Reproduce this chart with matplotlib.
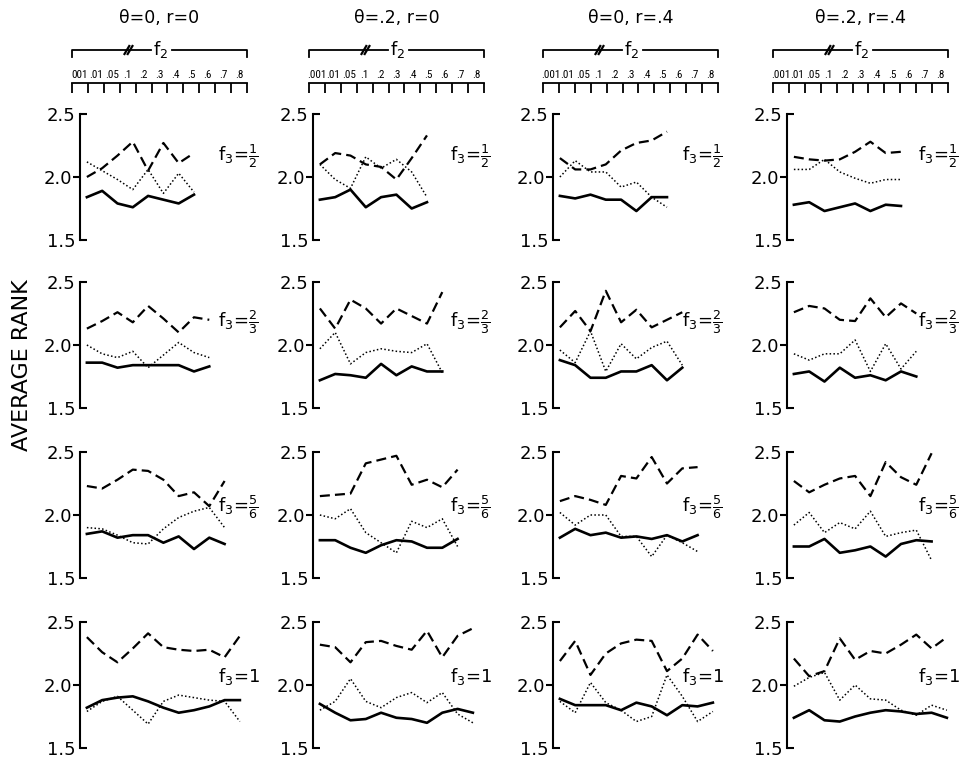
import matplotlib
matplotlib.use('Agg')
import matplotlib.pyplot as plt
from matplotlib import font_manager

# column headings, f2 scale and f3 row labels
col_titles = ['θ=0, r=0', 'θ=.2, r=0', 'θ=0, r=.4', 'θ=.2, r=.4']
f2_labels_first = ['001', '.01', '.05', '.1', '.2', '.3', '.4', '.5', '.6', '.7', '.8']
f2_labels = ['.001', '.01', '.05', '.1', '.2', '.3', '.4', '.5', '.6', '.7', '.8']
f3_labels = ['f$_3$=$\\frac{1}{2}$', 'f$_3$=$\\frac{2}{3}$', 'f$_3$=$\\frac{5}{6}$', 'f$_3$=1']
y_ticks = [1.5, 2.5]
y_tick_labels = ['1.5', '2.5']
y_mid = [2.0]
y_mid_labels = ['2.0']

# average rank, one list per column (theta/r case)
dashed_f3_half = [
    [2.00, 2.07, 2.17, 2.28, 2.05, 2.27, 2.11, 2.19],
    [2.10, 2.19, 2.17, 2.10, 2.08, 1.98, 2.15, 2.33],
    [2.15, 2.06, 2.06, 2.10, 2.21, 2.27, 2.29, 2.36],
    [2.16, 2.14, 2.13, 2.14, 2.20, 2.28, 2.19, 2.20],
]
dotted_f3_half = [
    [2.12, 2.05, 1.98, 1.90, 2.06, 1.87, 2.03, 1.88],
    [2.10, 1.98, 1.91, 2.16, 2.07, 2.14, 2.04, 1.84],
    [2.00, 2.13, 2.04, 2.04, 1.92, 1.96, 1.84, 1.76],
    [2.06, 2.06, 2.14, 2.04, 1.99, 1.95, 1.98, 1.98],
]
solid_f3_half = [
    [1.84, 1.89, 1.79, 1.76, 1.85, 1.82, 1.79, 1.86],
    [1.82, 1.84, 1.90, 1.76, 1.84, 1.86, 1.75, 1.80],
    [1.85, 1.83, 1.86, 1.82, 1.82, 1.73, 1.84, 1.84],
    [1.78, 1.80, 1.73, 1.76, 1.79, 1.73, 1.78, 1.77],
]

dashed_f3_two_thirds = [
    [2.13, 2.19, 2.26, 2.18, 2.31, 2.21, 2.10, 2.22, 2.20],
    [2.29, 2.13, 2.36, 2.29, 2.17, 2.29, 2.23, 2.17, 2.42],
    [2.14, 2.27, 2.11, 2.43, 2.18, 2.28, 2.14, 2.20, 2.26],
    [2.26, 2.31, 2.29, 2.20, 2.19, 2.37, 2.22, 2.33, 2.25],
]
dotted_f3_two_thirds = [
    [2.00, 1.93, 1.90, 1.95, 1.82, 1.92, 2.02, 1.94, 1.90],
    [1.97, 2.10, 1.85, 1.94, 1.97, 1.95, 1.94, 2.01, 1.78],
    [1.96, 1.86, 2.11, 1.79, 2.01, 1.89, 1.98, 2.03, 1.84],
    [1.93, 1.88, 1.93, 1.93, 2.04, 1.79, 2.01, 1.81, 1.95],
]
solid_f3_two_thirds = [
    [1.86, 1.86, 1.82, 1.84, 1.84, 1.84, 1.84, 1.79, 1.83],
    [1.72, 1.77, 1.76, 1.74, 1.85, 1.76, 1.83, 1.79, 1.79],
    [1.88, 1.84, 1.74, 1.74, 1.79, 1.79, 1.84, 1.72, 1.82],
    [1.77, 1.79, 1.71, 1.82, 1.74, 1.76, 1.72, 1.79, 1.75],
]

dashed_f3_five_sixths = [
    [2.23, 2.21, 2.28, 2.36, 2.35, 2.28, 2.15, 2.18, 2.07, 2.27],
    [2.15, 2.16, 2.17, 2.41, 2.44, 2.47, 2.24, 2.28, 2.22, 2.36],
    [2.11, 2.15, 2.12, 2.08, 2.31, 2.29, 2.46, 2.25, 2.37, 2.38],
    [2.27, 2.18, 2.24, 2.29, 2.31, 2.15, 2.42, 2.30, 2.24, 2.49],
]
dotted_f3_five_sixths = [
    [1.90, 1.89, 1.84, 1.78, 1.77, 1.89, 1.98, 2.03, 2.06, 1.90],
    [2.00, 1.97, 2.05, 1.86, 1.78, 1.70, 1.95, 1.90, 1.97, 1.75],
    [2.02, 1.92, 2.00, 2.00, 1.83, 1.83, 1.67, 1.84, 1.78, 1.71],
    [1.92, 2.02, 1.86, 1.94, 1.89, 2.03, 1.83, 1.86, 1.88, 1.64],
]
solid_f3_five_sixths = [
    [1.85, 1.87, 1.82, 1.84, 1.84, 1.78, 1.83, 1.73, 1.82, 1.77],
    [1.80, 1.80, 1.74, 1.70, 1.76, 1.80, 1.79, 1.74, 1.74, 1.81],
    [1.82, 1.89, 1.84, 1.86, 1.82, 1.83, 1.81, 1.84, 1.79, 1.84],
    [1.75, 1.75, 1.81, 1.70, 1.72, 1.75, 1.67, 1.77, 1.80, 1.79],
]

dashed_f3_one = [
    [2.38, 2.26, 2.18, 2.29, 2.41, 2.30, 2.28, 2.27, 2.28, 2.22, 2.39],
    [2.32, 2.30, 2.18, 2.34, 2.35, 2.31, 2.28, 2.43, 2.22, 2.39, 2.45],
    [2.19, 2.35, 2.08, 2.25, 2.33, 2.36, 2.35, 2.11, 2.21, 2.40, 2.27],
    [2.21, 2.07, 2.11, 2.37, 2.20, 2.27, 2.25, 2.32, 2.40, 2.29, 2.38],
]
dotted_f3_one = [
    [1.79, 1.87, 1.91, 1.80, 1.69, 1.87, 1.92, 1.90, 1.88, 1.87, 1.71],
    [1.80, 1.87, 2.05, 1.87, 1.82, 1.90, 1.94, 1.86, 1.94, 1.77, 1.70],
    [1.87, 1.78, 2.02, 1.86, 1.80, 1.71, 1.75, 2.08, 1.91, 1.71, 1.79],
    [1.99, 2.06, 2.10, 1.88, 2.00, 1.89, 1.88, 1.80, 1.76, 1.84, 1.80],
]
solid_f3_one = [
    [1.82, 1.88, 1.90, 1.91, 1.87, 1.82, 1.78, 1.80, 1.83, 1.88, 1.88],
    [1.85, 1.78, 1.72, 1.73, 1.78, 1.74, 1.73, 1.70, 1.78, 1.81, 1.78],
    [1.89, 1.84, 1.84, 1.84, 1.80, 1.86, 1.83, 1.76, 1.84, 1.83, 1.86],
    [1.74, 1.80, 1.72, 1.71, 1.75, 1.78, 1.80, 1.79, 1.77, 1.78, 1.74],
]

dashed_rows = [dashed_f3_half, dashed_f3_two_thirds, dashed_f3_five_sixths, dashed_f3_one]
dotted_rows = [dotted_f3_half, dotted_f3_two_thirds, dotted_f3_five_sixths, dotted_f3_one]
solid_rows = [solid_f3_half, solid_f3_two_thirds, solid_f3_five_sixths, solid_f3_one]
f3_label_y = [2.17, 2.18, 2.06, 2.07]


def narrow_font():
    for fam in ['Liberation Sans Narrow', 'Roboto Condensed', 'Open Sans Condensed']:
        try:
            font_manager.findfont(font_manager.FontProperties(family=fam),
                                  fallback_to_default=False)
            return fam, 8
        except ValueError:
            pass
    return 'DejaVu Sans', 6.5


plt.rcParams['font.family'] = 'DejaVu Sans'
plt.rcParams['mathtext.default'] = 'regular'

W, H = 963, 760
fig = plt.figure(figsize=(W / 100, H / 100), dpi=100)


def px_axes(x, y, w, h):
    return fig.add_axes([x / W, 1 - (y + h) / H, w / W, h / H])


spine_x = [80, 313, 553, 787]
top_y = [114, 282, 452, 622]
panel_w, panel_h = 185, 126
step = 15.3
x0 = -0.45
label_x = [8.6, 8.5, 8.0, 8.1]

for r in range(4):
    for c in range(4):
        ax = px_axes(spine_x[c], top_y[r], panel_w, panel_h)
        d = dashed_rows[r][c]
        p = dotted_rows[r][c]
        s = solid_rows[r][c]
        ax.plot(range(len(d)), d, color='black', lw=1.6, ls=(0, (4.5, 2.3)), clip_on=False)
        ax.plot(range(len(p)), p, color='black', lw=1.1, ls=(0, (1, 1.5)), clip_on=False)
        ax.plot(range(len(s)), s, color='black', lw=1.9, clip_on=False)
        ax.set_xlim(x0, x0 + panel_w / step)
        ax.set_ylim(1.5, 2.5)
        for side in ['top', 'right', 'bottom']:
            ax.spines[side].set_visible(False)
        ax.spines['left'].set_linewidth(1.5)
        ax.set_xticks([])
        ax.set_yticks(y_ticks, labels=y_tick_labels)
        ax.set_yticks(y_mid, labels=y_mid_labels, minor=True)
        ax.tick_params(axis='y', which='major', direction='in', length=5, width=1.5,
                       pad=3, labelsize=13)
        ax.tick_params(axis='y', which='minor', direction='out', length=5, width=1.5,
                       pad=1, labelsize=13)
        ax.text(label_x[c], f3_label_y[r], f3_labels[r], fontsize=13,
                ha='left', va='center')

# f2 scale above each column
hx = [72, 309, 543, 773]
hw = 175
fam, fs = narrow_font()
for c in range(4):
    labels = f2_labels_first if c == 0 else f2_labels
    n = len(labels)
    hax = px_axes(hx[c], 40, hw, 55)
    hax.set_xlim(0, n)
    hax.set_ylim(95, 40)
    for side in ['left', 'right', 'bottom']:
        hax.spines[side].set_visible(False)
    hax.spines['top'].set_position(('data', 83))
    hax.spines['top'].set_linewidth(1.3)
    hax.patch.set_visible(False)
    hax.set_yticks([])
    hax.xaxis.set_ticks_position('top')
    hax.set_xticks(range(n + 1), labels=[''] * (n + 1))
    hax.set_xticks([k + 0.5 for k in range(n)], labels=labels, minor=True)
    hax.tick_params(axis='x', which='major', direction='in', length=7.2, width=1.3)
    hax.tick_params(axis='x', which='minor', length=0, pad=2, labelsize=fs)
    for t in hax.get_xticklabels(minor=True):
        t.set_family(fam)
    # bracket with f2 and a break mark
    hax.plot([0, 0, 4.95], [57, 50, 50], color='black', lw=1.3, clip_on=False)
    hax.plot([6.3, n, n], [50, 50, 57], color='black', lw=1.3, clip_on=False)
    hax.plot([3.3, 3.6], [54, 46], color='black', lw=1.6, clip_on=False)
    hax.plot([3.5, 3.8], [54, 46], color='black', lw=1.6, clip_on=False)
    hax.text(5.6, 50, 'f$_2$', fontsize=13, ha='center', va='center')
    hax.text(n / 2, 18, col_titles[c], fontsize=12.5, ha='center', va='center',
             clip_on=False)

fig.text(22 / W, 1 - 365 / H, 'AVERAGE RANK', rotation=90, fontsize=16,
         ha='center', va='center')

fig.savefig('out.png', dpi=100)
